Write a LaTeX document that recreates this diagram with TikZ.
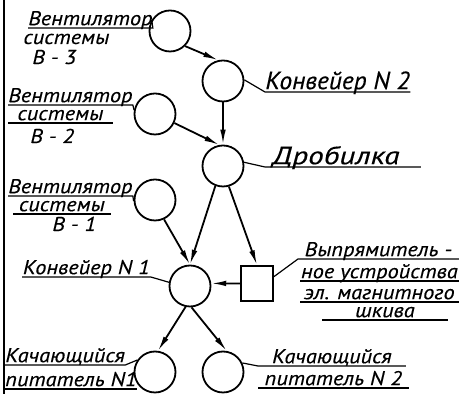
\documentclass[tikz,border=0pt]{standalone}
\usepackage{fontspec}
\newfontfamily\draftfont{PT Sans}[FakeStretch=1.12,FakeBold=0.3]
\newfontfamily\bigdraftfont{PT Sans}[FakeStretch=1.02,FakeBold=0.3]
\usetikzlibrary{arrows.meta}

\begin{document}
\begin{tikzpicture}[x=0.5pt,y=-0.5pt,
    blk/.style={circle, draw, line width=0.9pt, minimum size=20.5pt, inner sep=0pt},
    arr/.style={line width=0.9pt, -{Latex[length=7.5pt,width=2.8pt]}},
    lead/.style={line width=0.6pt},
    txt/.style={font=\draftfont\itshape\fontsize{10}{12}\selectfont, inner sep=0pt, anchor=base west},
    ul/.style={font=\draftfont\itshape\fontsize{10}{12}\selectfont, inner xsep=0pt, inner ysep=1.2pt,
               text height=6pt, text depth=0pt, anchor=south west},
    big/.style={font=\bigdraftfont\itshape\fontsize{12.5}{14}\selectfont, text height=8pt}]

    \useasboundingbox (0,0) rectangle (466,394);

    % Frame line on the left
    \draw[line width=0.9pt] (4,0) -- (4,394);

    % Units
    \node[blk] (v3) at (170,31) {};
    \node[blk] (conv2) at (223,81) {};
    \node[blk] (v2) at (155,114) {};
    \node[blk] (crush) at (223,166) {};
    \node[blk] (v1) at (155,200) {};
    \node[blk] (conv1) at (190,286) {};
    \node[draw, line width=0.9pt, minimum width=16pt, minimum height=17.5pt, inner sep=0pt] (rectifier) at (257,283.5) {};
    \node[blk] (feed1) at (155,372) {};
    \node[blk] (feed2) at (223,372) {};

    % Flow of material
    \draw[arr] (v3.-45) -- (conv2.103);
    \draw[arr] (conv2.south) -- (crush.north);
    \draw[arr] (v2.-25) -- (crush.100);
    \draw[arr] (crush.-111) -- (conv1.north);
    \draw[arr] (crush.-74) -- (rectifier.north);
    \draw[arr] (v1.-65) -- (conv1.north);
    \draw[arr] (rectifier.west) -- (conv1.7);
    \draw[arr] (conv1.-102) -- (feed1.82);
    \draw[arr] (conv1.-86) -- (feed2.80);

    % Labels
    \node[ul, minimum width=54.5pt] (v3a) at (28,28) {Вентилятор};
    \node[txt] (v3b) at (23,44) {системы};
    \node[txt] (v3c) at (32,64) {В - 3};

    \node[ul, big, minimum width=71pt] (c2t) at (265,92) {Конвейер N 2};
    \node[ul, big, text width=77.5pt, align=left] (drt) at (265,167)
        {\hspace*{3.5pt}\addfontfeature{FakeStretch=1.25}Дробилка};

    \node[ul, minimum width=59.5pt] (v2a) at (8,105) {Вентилятор};
    \node[ul, minimum width=52pt] (v2b) at (8,123) {системы};
    \node[txt] (v2c) at (30,143) {В - 2};

    \node[ul, minimum width=60pt] (v1a) at (8,196) {Вентилятор};
    \node[ul, minimum width=48.5pt] (v1b) at (13,214) {системы};
    \node[txt] (v1c) at (52,231) {В - 1};

    \node[ul, minimum width=64pt] (c1t) at (22,277) {Конвейер N 1};

    \node[ul, minimum width=80pt] (r1) at (298,259) {Выпрямитель -};
    \node[ul, minimum width=79pt] (r2) at (300,281) {ное устройства};
    \node[ul, minimum width=79pt] (r3) at (300,302) {эл. магнитного};
    \node[ul, minimum width=62.5pt] (r4) at (322,320) {шкива};

    \node[ul, minimum width=58.5pt] (f1a) at (5,365) {Качающийся};
    \node[ul, minimum width=60pt] (f1b) at (5,389) {питатель N1};
    \node[ul, minimum width=73.5pt] (f2a) at (258,366) {Качающийся};
    \node[ul, minimum width=75pt] (f2b) at (258,388) {питатель N 2};

    % Underlines and leaders
    \draw[lead] (v3a.south west) -- (v3a.south east) -- (v3.149);
    \draw[lead] (c2t.south east) -- (c2t.south west) -- (conv2.3);
    \draw[lead] (drt.south east) -- (drt.south west) -- (crush.10);
    \draw[lead] (v2a.south west) -- (v2a.south east) -- (v2.169);
    \draw[lead] (v1a.south west) -- (v1a.south east) -- (v1.183);
    \draw[lead] (c1t.south west) -- (c1t.south east) -- (conv1.170);
    \draw[lead] (r1.south east) -- (r1.south west) -- (rectifier.22);
    \draw[lead] (f1a.south west) -- (f1a.south east) -- (feed1.146);
    \draw[lead] (f2a.south east) -- (f2a.south west) -- (feed2.25);
    \foreach \n in {v2b,v1b,r2,r3,r4,f1b,f2b}
        \draw[lead] (\n.south west) -- (\n.south east);
\end{tikzpicture}
\end{document}
